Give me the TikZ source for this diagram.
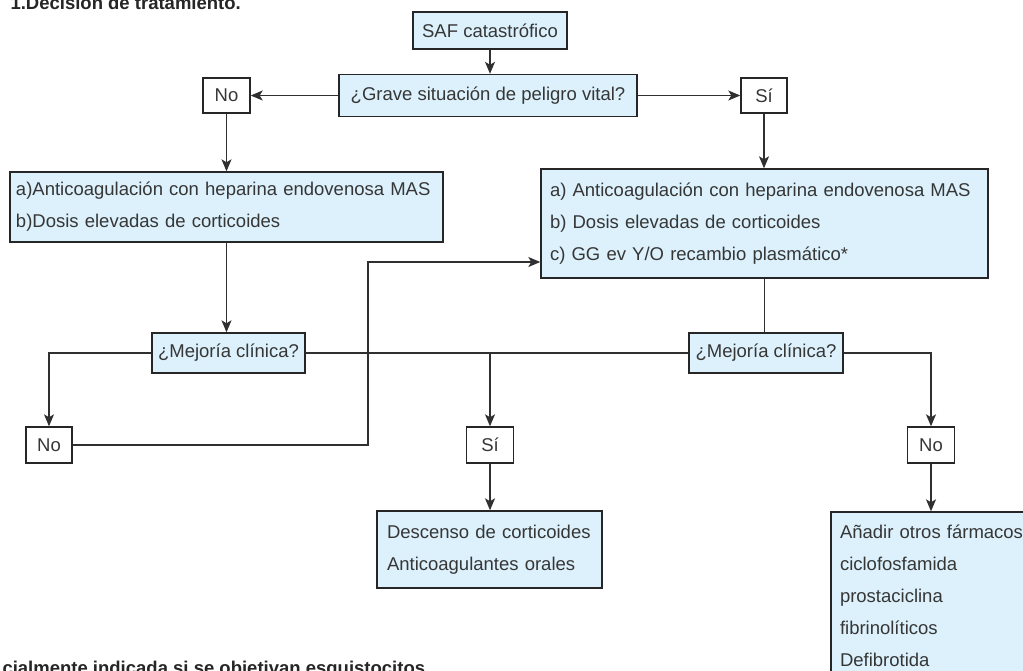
\documentclass[tikz,border=0pt]{standalone}
\usepackage{fontspec}
\setmainfont{Liberation Sans}
\usetikzlibrary{arrows.meta,calc}
\definecolor{boxblue}{HTML}{DCF1FC}
\definecolor{edgec}{HTML}{262626}
\definecolor{txtc}{HTML}{363636}
\definecolor{linec}{HTML}{303030}
\begin{document}
\begin{tikzpicture}[x=1pt,y=-1pt,
  every node/.style={font=\fontsize{18.5}{32}\selectfont, text=txtc},
  blk/.style={draw=edgec, line width=1.4pt, fill=boxblue, inner sep=0pt},
  wbox/.style={draw=edgec, line width=1.4pt, fill=white, inner sep=0pt},
  mblk/.style={draw=edgec, line width=1.4pt, fill=boxblue, align=left, inner ysep=0pt},
  conn/.style={draw=linec, line width=1.2pt},
  arr/.style={conn, -{Stealth[length=12pt,width=10pt,inset=3pt]}},
  boldtxt/.style={font=\fontsize{18.5}{22}\selectfont\bfseries, text=black!85}]
\useasboundingbox (0,0) rectangle (1023,670);
\clip (0,0) rectangle (1023,670);
\fill[white] (0,0) rectangle (1023,670);

\node[boldtxt, anchor=base west] (title) at (7,9) {1.Decisión de tratamiento.};
\node[boldtxt, anchor=base west] (foot) at (-1,674) {cialmente indicada si se objetivan esquistocitos};

\node[blk, minimum width=154pt, minimum height=37pt] (saf) at (490,30.5) {SAF catastrófico};
\node[blk, minimum width=298pt, minimum height=42pt] (grave) at (488,95.5) {¿Grave situación de peligro vital?};
\node[wbox, minimum width=47pt, minimum height=35pt] (no1) at (226.5,95.5) {No};
\node[wbox, minimum width=46pt, minimum height=35pt] (si1) at (764,95.5) {Sí};

\node[mblk, inner xsep=6pt, text width=421pt, minimum height=70pt] (boxA) at (226.5,207)
  {a)Anticoagulación con heparina endovenosa MAS\\b)Dosis elevadas de corticoides};
\node[mblk, inner xsep=9pt, text width=429pt, minimum height=109pt] (boxB) at (764.5,223.5)
  {a) Anticoagulación con heparina endovenosa MAS\\b) Dosis elevadas de corticoides\\c) GG ev Y/O recambio plasmático*};

\node[blk, minimum width=153pt, minimum height=40pt] (mej1) at (228.5,353) {¿Mejoría clínica?};
\node[blk, minimum width=154pt, minimum height=40pt] (mej2) at (766,353) {¿Mejoría clínica?};

\node[wbox, minimum width=46pt, minimum height=36pt] (no2) at (49,445) {No};
\node[wbox, minimum width=47pt, minimum height=36pt] (si2) at (490,445) {Sí};
\node[wbox, minimum width=47pt, minimum height=36pt] (no3) at (931,445) {No};

\node[mblk, inner xsep=10pt, text width=205pt, minimum height=77pt] (desc) at (489.5,549.5)
  {Descenso de corticoides\\Anticoagulantes orales};
\node[mblk, inner xsep=9pt, text width=192pt, minimum height=167pt] (anadir) at (936,595.5)
  {Añadir otros fármacos\\ciclofosfamida\\prostaciclina\\fibrinolíticos\\Defibrotida};

\draw[arr] (saf.south) -- (saf.south |- grave.north);
\draw[arr] (grave.west) -- (no1.east);
\draw[arr] (grave.east) -- (si1.west);
\draw[arr] (no1.south) -- (no1.south |- boxA.north);
\draw[arr] (si1.south) -- (si1.south |- boxB.north);
\draw[arr] (boxA.south) -- (boxA.south |- mej1.north);
\draw[conn] (boxB.south) -- (boxB.south |- mej2.north);
\draw[arr] (mej1.west) -| (no2.north);
\draw[conn] (mej1.east) -- (mej2.west);
\coordinate (siJ) at (si2.north |- mej1.east);
\draw[arr] (siJ) -- (si2.north);
\draw[arr] (mej2.east) -| (no3.north);
\coordinate (loopTop) at (368,262);
\draw[arr] (no2.east) -| (loopTop) -- (boxB.west |- loopTop);
\draw[arr] (si2.south) -- (si2.south |- desc.north);
\draw[arr] (no3.south) -- (no3.south |- anadir.north);
\end{tikzpicture}
\end{document}
